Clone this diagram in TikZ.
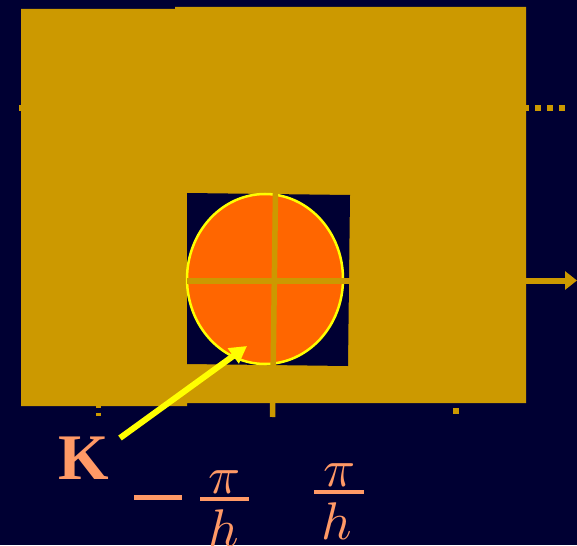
\documentclass[tikz,border=0pt]{standalone}
\usepackage{fontspec}
\setmainfont{Liberation Serif}
\usetikzlibrary{arrows.meta,shapes.geometric}
\definecolor{navy}{HTML}{000033}
\definecolor{gold}{HTML}{CC9900}
\definecolor{orng}{HTML}{FF6600}
\definecolor{yel}{HTML}{FFFF00}
\definecolor{salmon}{HTML}{FF9966}
\newcommand{\bigmath}[1]{\scalebox{5.3}{$#1$}}
\begin{document}
\begin{tikzpicture}[x=1pt,y=-1pt,
  axisline/.style={gold,line width=6pt},
  tickmark/.style={gold,line width=5pt},
  mathtxt/.style={salmon,inner sep=0pt,anchor=base},
  fracbar/.style={salmon,line width=4.5pt}]
\useasboundingbox (0,0) rectangle (577,545);
\fill[navy] (0,0) rectangle (577,545);
% gold plane
\fill[gold] (21,9) -- (175,9) -- (175,7) -- (526,7) -- (526,403) -- (187,403) -- (187,406) -- (21,406) -- cycle;
% dotted line
\draw[gold,line width=6pt,dash pattern=on 6pt off 6pt] (19,108) -- (568,108);
% inner navy square
\fill[navy] (187,193) -- (350,195) -- (348,366) -- (187,364) -- cycle;
% ellipse
\node[ellipse,draw=yel,fill=orng,line width=2.5pt,minimum width=156pt,minimum height=170pt,inner sep=0pt] (ell) at (265,279) {};
% axes
\coordinate (xstart) at (187,280.5);
\coordinate (xend) at (577,280.5);
\draw[axisline,-{Triangle[length=12pt,width=18pt]}] (xstart) -- (xend);
\coordinate (ytop) at (275.5,193);
\coordinate (ybot) at (272.5,417);
\draw[axisline,line width=5.5pt] (ytop) -- (ybot);
% ticks
\draw[tickmark] (98.5,405) -- (98.5,407.5);
\draw[tickmark] (98.5,412.5) -- (98.5,415.5);
\draw[tickmark,line width=6pt] (456,408) -- (456,414);
% K label and arrow
\node[salmon,inner sep=0pt,anchor=base,font=\fontsize{65}{65}\selectfont\bfseries] (K) at (83.5,479) {K};
\coordinate (kstart) at (120,438);
\coordinate (ktip) at (247,346);
\draw[yel,line width=6pt,-{Triangle[length=17pt,width=18pt]}] (kstart) -- (ktip);
% minus sign
\coordinate (ma) at (134,497.5);
\coordinate (mb) at (182,497.5);
\draw[salmon,line width=5.5pt] (ma) -- (mb);
% fraction 1
\node[mathtxt] (pi1) at (225,493) {\bigmath{\pi}};
\coordinate (b1a) at (200,499);
\coordinate (b1b) at (249,499);
\draw[fracbar] (b1a) -- (b1b);
\node[mathtxt] (h1) at (224,546) {\bigmath{h}};
% fraction 2
\node[mathtxt] (pi2) at (339.5,486) {\bigmath{\pi}};
\coordinate (b2a) at (314,492);
\coordinate (b2b) at (364,492);
\draw[fracbar] (b2a) -- (b2b);
\node[mathtxt] (h2) at (337,539) {\bigmath{h}};
\end{tikzpicture}
\end{document}
